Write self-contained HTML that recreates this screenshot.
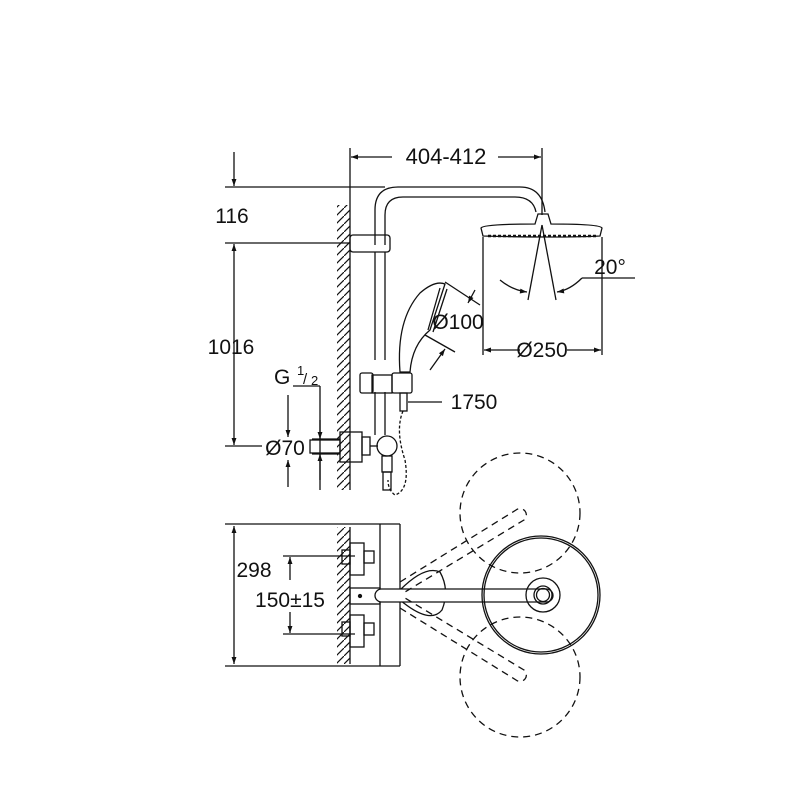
<!DOCTYPE html>
<html><head><meta charset="utf-8"><style>
html,body{margin:0;padding:0;background:#fff}
svg{display:block}
text{font-family:"Liberation Sans",sans-serif;font-size:21px;fill:#111}
</style></head><body>
<svg width="800" height="800" viewBox="0 0 800 800" xmlns="http://www.w3.org/2000/svg">
<defs>
<marker id="a" viewBox="0 0 10 10" refX="10" refY="5" markerWidth="10" markerHeight="7" orient="auto-start-reverse" markerUnits="userSpaceOnUse"><path d="M0,1.5 L10,5 L0,8.5z" fill="#111"/></marker>
<pattern id="h" width="8" height="8" patternUnits="userSpaceOnUse"><path d="M-2,10 L10,-2" stroke="#111" stroke-width="1.2"/></pattern>
</defs>
<g stroke="#111" stroke-width="1.3" fill="none">
<rect x="337" y="205" width="13" height="285" fill="url(#h)" stroke="none"/>
<line x1="350" y1="205" x2="350" y2="490"/>
<line x1="350" y1="148" x2="350" y2="205"/>
<line x1="542" y1="148" x2="542" y2="215"/>
<line x1="392" y1="157" x2="351" y2="157" marker-end="url(#a)"/>
<line x1="498" y1="157" x2="541" y2="157" marker-end="url(#a)"/>
<line x1="225" y1="187" x2="385" y2="187"/>
<line x1="225" y1="243" x2="350" y2="243"/>
<line x1="225" y1="446" x2="262" y2="446"/>
<line x1="234" y1="152" x2="234" y2="186" marker-end="url(#a)"/>
<line x1="234" y1="244" x2="234" y2="445" marker-start="url(#a)" marker-end="url(#a)"/>
<path d="M375,245 L375,210 Q375,187 398,187 L520,187 Q542,187 545,212"/>
<path d="M385,245 L385,215 Q385,197 403,197 L515,197 Q533,197 536,212"/>
<rect x="350" y="235" width="40" height="17" rx="3"/>
<line x1="375" y1="252" x2="375" y2="360"/>
<line x1="385" y1="252" x2="385" y2="360"/>
<line x1="375" y1="392" x2="375" y2="435"/>
<line x1="385" y1="392" x2="385" y2="435"/>
<path d="M535,224 L538,214 L548,214 L551,224 Q600,224 602,228 L600,236 Q560,238 483,236 L481,228 Q483,224 535,224z"/>
<path d="M488,236 L598,236" stroke-dasharray="3,2" stroke-width="2.5"/>
<line x1="483" y1="237" x2="483" y2="355"/>
<line x1="602" y1="237" x2="602" y2="355"/>
<line x1="542" y1="225" x2="528" y2="300"/>
<line x1="542" y1="225" x2="556" y2="300"/>
<path d="M500,280 Q512,290 527,292" marker-end="url(#a)"/>
<path d="M582,278 Q570,290 557,292" marker-end="url(#a)"/>
<line x1="582" y1="278" x2="635" y2="278"/>
<line x1="520" y1="350" x2="484" y2="350" marker-end="url(#a)"/>
<line x1="567" y1="350" x2="601" y2="350" marker-end="url(#a)"/>
<path d="M400,372 Q396,320 420,293 Q435,280 445,284 L430,330 Q412,345 410,372z"/>
<path d="M440,288 L428,330 M447,289 L433,332"/>
<line x1="445" y1="282" x2="480" y2="305"/>
<line x1="475" y1="290" x2="468" y2="303" marker-end="url(#a)"/>
<line x1="425" y1="335" x2="455" y2="352"/>
<line x1="430" y1="370" x2="445" y2="349" marker-end="url(#a)"/>
<rect x="360" y="373" width="13" height="20" rx="2"/>
<rect x="372" y="375" width="20" height="18"/>
<rect x="392" y="373" width="20" height="20" rx="2"/>
<rect x="400" y="393" width="7" height="18"/>
<line x1="408" y1="402" x2="442" y2="402"/>
<path d="M403,411 Q395,430 405,460 Q410,490 395,495 Q388,490 388,480" stroke-dasharray="3,2"/>
<rect x="340" y="432" width="22" height="30"/>
<rect x="310" y="440" width="30" height="13"/>
<rect x="362" y="437" width="8" height="18"/>
<line x1="370" y1="446" x2="378" y2="446"/>
<circle cx="387" cy="446" r="10"/>
<rect x="382" y="456" width="10" height="16"/>
<rect x="383" y="472" width="8" height="18"/>
<line x1="293" y1="386" x2="320" y2="386"/>
<line x1="320" y1="386" x2="320" y2="490"/>
<line x1="288" y1="395" x2="288" y2="437" marker-end="url(#a)"/>
<line x1="288" y1="487" x2="288" y2="460" marker-end="url(#a)"/>
<line x1="320" y1="420" x2="320" y2="439" marker-end="url(#a)"/>
<line x1="320" y1="480" x2="320" y2="454" marker-end="url(#a)"/>
<line x1="312" y1="439" x2="340" y2="439"/>
<line x1="312" y1="454" x2="340" y2="454"/>
<line x1="225" y1="524" x2="400" y2="524"/>
<line x1="225" y1="666" x2="400" y2="666"/>
<line x1="234" y1="526" x2="234" y2="664" marker-start="url(#a)" marker-end="url(#a)"/>
<rect x="337" y="527" width="13" height="137" fill="url(#h)" stroke="none"/>
<line x1="350" y1="527" x2="350" y2="664"/>
<line x1="380" y1="524" x2="380" y2="666"/>
<line x1="400" y1="524" x2="400" y2="666"/>
<line x1="283" y1="556" x2="355" y2="556"/>
<line x1="283" y1="634" x2="355" y2="634"/>
<line x1="290" y1="580" x2="290" y2="557" marker-end="url(#a)"/>
<line x1="290" y1="612" x2="290" y2="633" marker-end="url(#a)"/>
<rect x="350" y="543" width="14" height="32"/><rect x="342" y="550" width="8" height="14"/><rect x="364" y="551" width="10" height="12"/>
<rect x="350" y="615" width="14" height="32"/><rect x="342" y="622" width="8" height="14"/><rect x="364" y="623" width="10" height="12"/>
<rect x="350" y="588" width="30" height="16"/>
<circle cx="360" cy="596" r="1.5" fill="#111"/>
<path d="M400,590 Q425,565 440,572 Q450,590 442,610 Q430,625 400,600"/>
<rect x="375" y="589" width="178" height="13" rx="6.5" fill="#fff"/>
<circle cx="541" cy="595" r="59"/><circle cx="541" cy="595" r="57"/>
<circle cx="543" cy="595" r="17"/><circle cx="543" cy="595" r="9"/><circle cx="543" cy="595" r="6.5"/>
<g stroke-dasharray="7,5">
<circle cx="520" cy="513" r="60"/>
<circle cx="520" cy="677" r="60"/>
<path d="M400,582 L516,510 A6,6 0 0 1 524,520 L405,592"/>
<path d="M400,608 L516,680 A6,6 0 0 0 524,670 L405,598"/>
</g>
</g>
<text x="446" y="164" text-anchor="middle" style="font-size:22px">404-412</text>
<text x="232" y="223" text-anchor="middle">116</text>
<text x="231" y="354" text-anchor="middle">1016</text>
<text x="610" y="274" text-anchor="middle">20°</text>
<text x="458" y="329" text-anchor="middle">Ø100</text>
<text x="542" y="357" text-anchor="middle">Ø250</text>
<text x="474" y="409" text-anchor="middle">1750</text>
<text x="274" y="384">G</text><text x="297" y="375" style="font-size:13px">1</text><text x="303" y="384" style="font-size:15px">/</text><text x="311" y="385" style="font-size:13px">2</text>
<text x="285" y="455" text-anchor="middle">Ø70</text>
<text x="254" y="577" text-anchor="middle">298</text>
<text x="290" y="607" text-anchor="middle">150±15</text>
</svg>
</body></html>
